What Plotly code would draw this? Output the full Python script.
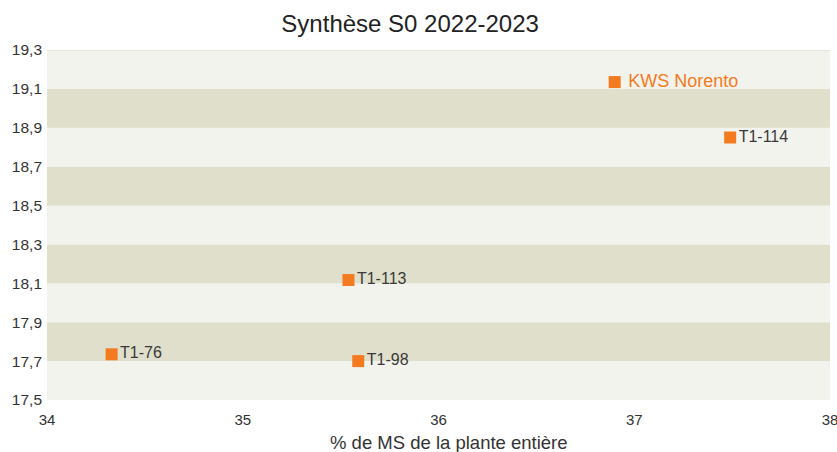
import plotly.graph_objects as go

names = ["KWS Norento", "T1-114", "T1-113", "T1-76", "T1-98"]
ms_values = [36.90, 37.49, 35.54, 34.33, 35.59]
yield_values = [19.135, 18.85, 18.117, 17.735, 17.70]
y_ticks = [17.5, 17.7, 17.9, 18.1, 18.3, 18.5, 18.7, 18.9, 19.1, 19.3]
x_ticks = [34, 35, 36, 37, 38]
x_title = "% de MS de la plante entière"

ORANGE = "#f47a20"
LIGHT = "#f3f3ee"
DARK = "#e0dfcb"
FONT = "Liberation Sans, Arial, sans-serif"

fig = go.Figure()

shapes = []
for i in range(len(y_ticks) - 1):
    shapes.append(dict(type="rect", xref="paper", yref="y", x0=0, x1=1,
                       y0=y_ticks[i], y1=y_ticks[i + 1],
                       fillcolor=LIGHT if i % 2 == 0 else DARK,
                       line=dict(width=0), layer="below"))
shapes.append(dict(type="line", xref="paper", yref="y", x0=0, x1=1,
                   y0=y_ticks[-1], y1=y_ticks[-1],
                   line=dict(color="#dad9c2", width=1), layer="below"))

labels = [(" " + n) if n == "KWS Norento" else n for n in names]
colors = [ORANGE if n == "KWS Norento" else "#3a3a3a" for n in names]
sizes = [18 if n == "KWS Norento" else 16 for n in names]

fig.add_trace(go.Scatter(
    x=ms_values, y=yield_values, mode="markers+text",
    marker=dict(symbol="square", size=12, color=ORANGE),
    text=labels, textposition="middle right",
    textfont=dict(color=colors, size=sizes, family=FONT),
    hoverinfo="skip", showlegend=False, cliponaxis=False))

fig.add_annotation(text=x_title, xref="paper", yref="paper", x=0.513, y=-0.12,
                   xanchor="center", yanchor="middle", showarrow=False,
                   font=dict(size=18.5, color="#333333", family=FONT))

fig.update_layout(
    width=837, height=452,
    margin=dict(l=47, r=7, t=50, b=52, autoexpand=False),
    paper_bgcolor="white", plot_bgcolor=LIGHT,
    separators=", ",
    font=dict(family=FONT, color="#333333", size=15),
    title=dict(text="Synthèse S0 2022-2023", x=0.49, xanchor="center",
               y=1 - 24 / 452, yanchor="middle", pad=dict(t=0, b=0),
               font=dict(size=24, color="#222222")),
    shapes=shapes,
    xaxis=dict(range=[34, 38], tickvals=x_ticks, showgrid=False, zeroline=False,
               showline=False, ticks="", tickfont=dict(size=15), automargin=False,
               ticklabelstandoff=9, ticklabeloverflow="allow"),
    yaxis=dict(range=[17.5, 19.3], tickvals=y_ticks, tickformat=".1f", showgrid=False,
               zeroline=False, showline=False, ticks="", tickfont=dict(size=15.5),
               automargin=False, ticklabelstandoff=4, ticklabeloverflow="allow"),
)

fig.write_html("out.html", config={"displayModeBar": False},
               post_script="document.body.style.margin='0';")
